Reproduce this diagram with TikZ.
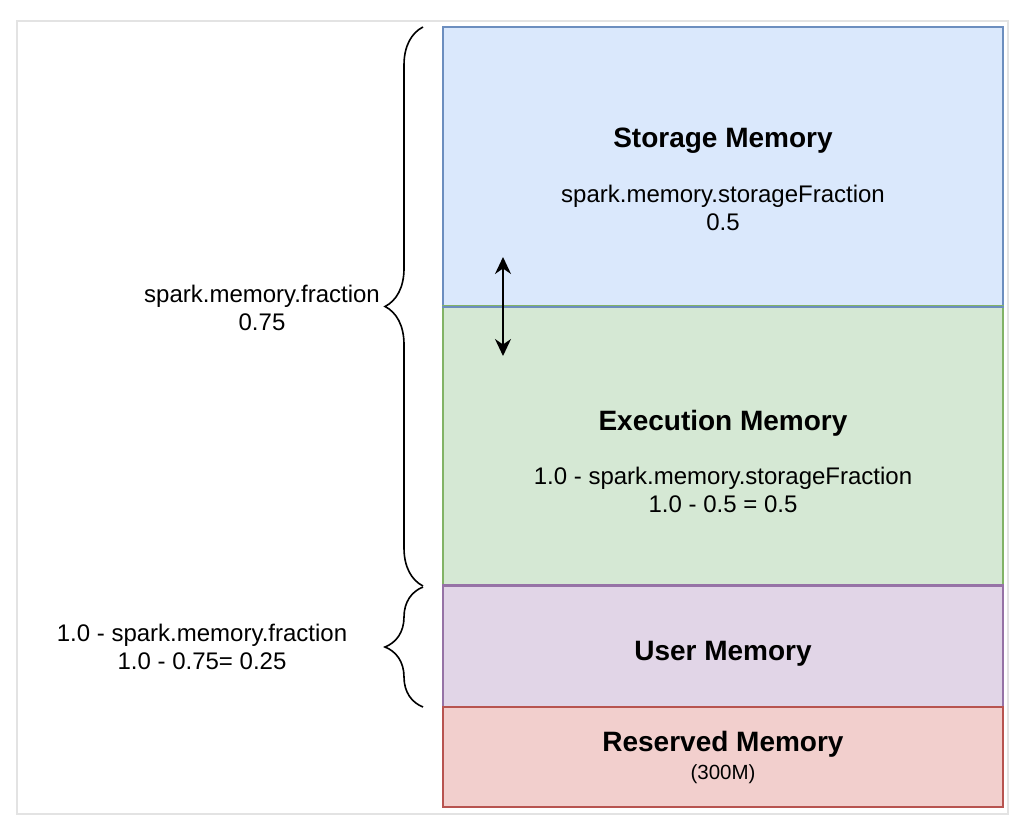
\documentclass[tikz,border=0pt]{standalone}
\usepackage{fontspec}
\setmainfont{Liberation Sans}
\usetikzlibrary{decorations.pathreplacing,arrows.meta}
\definecolor{storfill}{HTML}{DAE8FC}\definecolor{storline}{HTML}{6C8EBF}
\definecolor{execfill}{HTML}{D5E8D4}\definecolor{execline}{HTML}{82B366}
\definecolor{userfill}{HTML}{E1D5E7}\definecolor{userline}{HTML}{9673A6}
\definecolor{resfill}{HTML}{F2CFCD}\definecolor{resline}{HTML}{B85450}
\definecolor{frameline}{HTML}{E3E3E3}
\tikzset{
  membox/.style={draw, line width=1.6pt, inner sep=0pt, minimum width=560pt},
  title/.style={font=\fontsize{28}{33}\selectfont\bfseries},
  note/.style={font=\fontsize{24}{28}\selectfont, align=center},
  small/.style={font=\fontsize{20.5}{24}\selectfont},
  bracket/.style={line width=1.6pt, decorate, decoration={brace, amplitude=38pt}}
}
\begin{document}
\begin{tikzpicture}[x=1pt,y=-1pt]
 \useasboundingbox (0,0) rectangle (1032,834);
 \draw[frameline, line width=2pt] (17,21) rectangle (1008,814);
 % memory blocks
 \node[membox, fill=storfill, draw=storline, minimum height=279pt] (storage) at (723,166.5) {};
 \node[membox, fill=execfill, draw=execline, minimum height=280pt] (execution) at (723,446) {};
 \node[membox, fill=userfill, draw=userline, minimum height=121pt] (user) at (723,646.5) {};
 \node[membox, fill=resfill, draw=resline, minimum height=100pt] (reserved) at (723,757) {};
 \draw[storline, line width=1.6pt] (storage.south west) -- (storage.south east);
 \draw[userline, line width=1.6pt] (user.north west) -- (user.north east);
 % labels
 \node[title] (storT) at (723,141) {Storage Memory};
 \node[note] (storN) at (723,208) {spark.memory.storageFraction\\0.5};
 \node[title] (execT) at (723,423) {Execution Memory};
 \node[note] (execN) at (723,490) {1.0 - spark.memory.storageFraction\\1.0 - 0.5 = 0.5};
 \node[title] (userT) at (723,654) {User Memory};
 \node[title] (resT) at (723,744) {Reserved Memory};
 \node[small] (resN) at (723,774) {(300M)};
 % moving boundary
 \coordinate (up) at (503,257);
 \coordinate (down) at (503,356);
 \draw[{Stealth[length=17pt,width=16pt]}-{Stealth[length=17pt,width=16pt]}, line width=1.6pt] (up) -- (down);
 % braces
 \coordinate (fracTop) at (423,27);
 \coordinate (fracBot) at (423,586);
 \coordinate (userTop) at (423,587);
 \coordinate (userBot) at (423,707);
 \draw[bracket] (fracBot) -- (fracTop);
 \draw[bracket] (userBot) -- (userTop);
 \node[note] (fracN) at (262,308) {spark.memory.fraction\\0.75};
 \node[note] (userN) at (202,647) {1.0 - spark.memory.fraction\\1.0 - 0.75= 0.25};
\end{tikzpicture}
\end{document}
